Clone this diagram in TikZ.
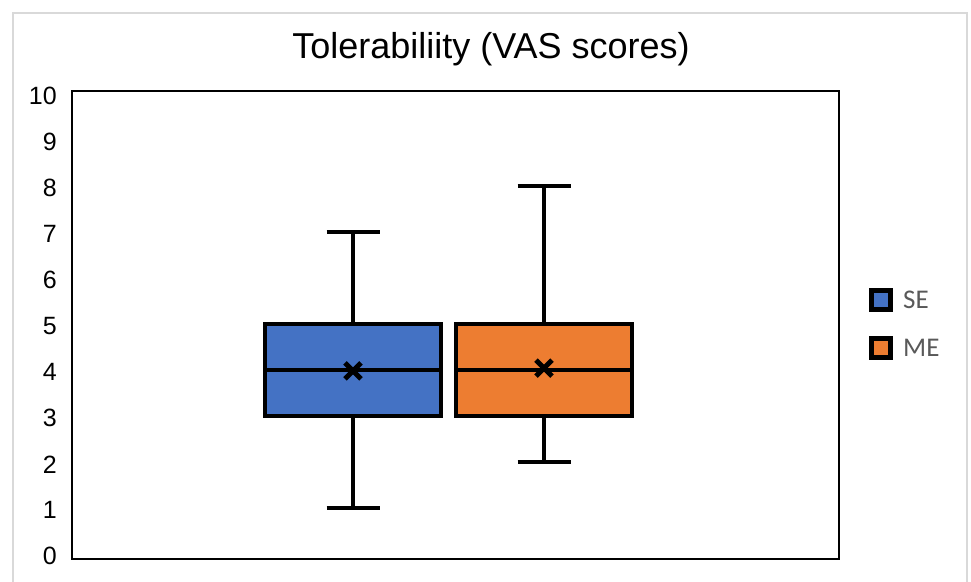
\documentclass[tikz,border=0pt]{standalone}
\usepackage{fontspec}
\setmainfont{Liberation Sans}
\newfontfamily\legendfont{Carlito}
\usetikzlibrary{positioning}
\definecolor{SEBlue}{HTML}{4472C4}
\definecolor{MEOrange}{HTML}{ED7D31}
\definecolor{Outer}{HTML}{D9D9D9}
\definecolor{LegText}{HTML}{595959}
\tikzset{
 plotframe/.style={draw=black, line width=1.5pt},
 boxbody/.style={draw=black, line width=4.5pt},
 whisker/.style={draw=black, line width=4.5pt},
 meanmark/.style={draw=black, line width=5pt},
 ticklabel/.style={anchor=east, inner sep=0pt, font=\fontsize{25}{25}\selectfont},
 legkey/.style={draw=black, line width=5pt, minimum size=19pt, inner sep=0pt},
 legtext/.style={anchor=west, inner sep=0pt, text=LegText, font=\legendfont\fontsize{27}{27}\selectfont}
}

\begin{document}
\begin{tikzpicture}[x=1pt,y=1pt]
\useasboundingbox (0,0) rectangle (971,581);
\fill[white] (0,0) rectangle (971,581);
\draw[Outer, line width=1.5pt] (13,-5) -- (13,568) -- (967,568) -- (967,-5);
\node[anchor=base, inner sep=0pt, font=\fontsize{36}{36}\selectfont] (title) at (491,522) {Tolerabiliity (VAS scores)};
\draw[plotframe] (72,22) rectangle (839,490);
\begin{scope}[yshift=27pt, y=46pt]
\foreach \v in {0,...,10}
  \node[ticklabel] (tick\v) at (57,\v-0.05) {\v};
% SE: min, q1, median, q3, max, mean
\coordinate (seLo) at (353,1);
\coordinate (seHi) at (353,7);
\draw[whisker] (seLo) -- (seHi);
\draw[whisker] ([xshift=-26.5pt]seLo) -- ([xshift=26.5pt]seLo);
\draw[whisker] ([xshift=-26.5pt]seHi) -- ([xshift=26.5pt]seHi);
\draw[boxbody, fill=SEBlue] (265,3) rectangle (441,5);
\draw[boxbody] (265,4) -- (441,4);
\coordinate (seMean) at (353,3.98);
\draw[meanmark] ([shift={(-8pt,-8pt)}]seMean) -- ([shift={(8pt,8pt)}]seMean);
\draw[meanmark] ([shift={(-8pt,8pt)}]seMean) -- ([shift={(8pt,-8pt)}]seMean);
% ME
\coordinate (meLo) at (544,2);
\coordinate (meHi) at (544,8);
\draw[whisker] (meLo) -- (meHi);
\draw[whisker] ([xshift=-26.5pt]meLo) -- ([xshift=26.5pt]meLo);
\draw[whisker] ([xshift=-26.5pt]meHi) -- ([xshift=26.5pt]meHi);
\draw[boxbody, fill=MEOrange] (456,3) rectangle (632,5);
\draw[boxbody] (456,4) -- (632,4);
\coordinate (meMean) at (544,4.04);
\draw[meanmark] ([shift={(-8pt,-8pt)}]meMean) -- ([shift={(8pt,8pt)}]meMean);
\draw[meanmark] ([shift={(-8pt,8pt)}]meMean) -- ([shift={(8pt,-8pt)}]meMean);
\end{scope}
% legend
\node[legkey, fill=SEBlue] (keySE) at (881,281) {};
\node[legtext, right=10pt of keySE] (labSE) {SE};
\node[legkey, fill=MEOrange] (keyME) at (881,233) {};
\node[legtext, right=10pt of keyME] (labME) {ME};
\end{tikzpicture}
\end{document}
